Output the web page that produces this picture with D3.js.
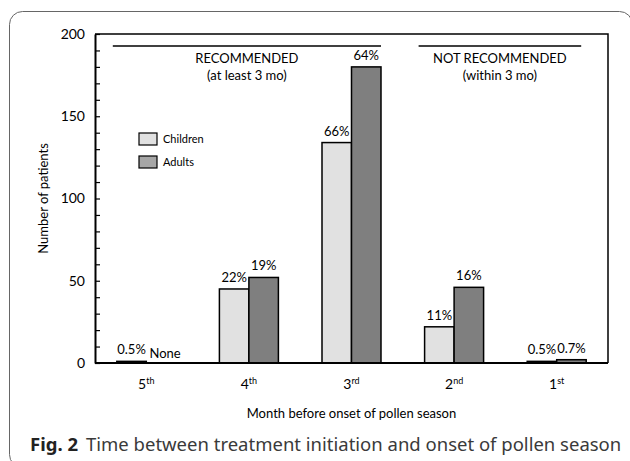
<!doctype html>
<html>
  <head>
    <script src="https://cdn.jsdelivr.net/npm/d3@7/dist/d3.min.js"></script>
    <style>
      body, html {
        margin: 0;
        background: #fff;
      }
      svg {
        display: block;
      }
      text {
        font-family: Lato, "Noto Sans", sans-serif;
        fill: #000;
      }
      rect.children {
        fill: #e1e1e1;
        stroke: #000;
        stroke-width: 1.5px;
      }
      rect.adults {
        fill: #7f7f7f;
        stroke: #000;
        stroke-width: 1.5px;
      }
    </style>
  </head>
  <body>
    <svg width="630" height="461"></svg>
    <script>

      var months = ["5th", "4th", "3rd", "2nd", "1st"];
      var monthNum = ["5", "4", "3", "2", "1"];
      var monthSup = ["th", "th", "rd", "nd", "st"];
      var children = [1, 45, 134, 22, 1];
      var adults = [0, 52, 180, 46, 2];
      var childPct = ["0.5%", "22%", "66%", "11%", "0.5%"];
      var adultPct = ["None", "19%", "64%", "16%", "0.7%"];
      var yTicks = [0, 50, 100, 150, 200];

      var svg = d3.select("svg");

      // outer figure frame
      svg.append("rect")
        .attr("x", 9.5).attr("y", 11.5)
        .attr("width", 623).attr("height", 456)
        .attr("rx", 13)
        .attr("fill", "none")
        .attr("stroke", "#666")
        .attr("stroke-width", 1);

      var pLeft = 95, pRight = 608, pTop = 34, pBottom = 363;

      var x = d3.scaleBand()
        .domain(months)
        .range([pLeft, pRight])
        .paddingInner(0.425)
        .paddingOuter(0.2125);

      var x1 = d3.scaleBand()
        .domain(["children", "adults"])
        .range([0, x.bandwidth()]);

      var y = d3.scaleLinear()
        .domain([0, 200])
        .range([pBottom, pTop]);

      // plot frame (top + right)
      svg.append("path")
        .attr("d", "M" + pLeft + "," + pTop + "H" + pRight + "V" + pBottom)
        .attr("fill", "none")
        .attr("stroke", "#000")
        .attr("stroke-width", 1.5);

      // bars
      var groups = svg.selectAll("g.month")
        .data(months)
        .enter().append("g")
        .attr("class", "month")
        .attr("transform", d => "translate(" + x(d) + ",0)");

      groups.append("rect")
        .attr("class", "children")
        .attr("x", x1("children"))
        .attr("width", x1.bandwidth())
        .attr("y", (d, i) => y(children[i]))
        .attr("height", (d, i) => y(0) - y(children[i]));

      groups.append("rect")
        .attr("class", "adults")
        .attr("x", x1("adults"))
        .attr("width", x1.bandwidth())
        .attr("y", (d, i) => y(adults[i]))
        .attr("height", (d, i) => y(0) - y(adults[i]));

      groups.append("text")
        .attr("x", x1("children") + x1.bandwidth() / 2)
        .attr("y", (d, i) => y(children[i]) - 7)
        .attr("text-anchor", "middle")
        .style("font-size", "13px")
        .text((d, i) => childPct[i]);

      groups.append("text")
        .attr("x", (d, i) => x1("adults") + x1.bandwidth() / 2 + (adults[i] === 0 ? 4 : 0))
        .attr("y", (d, i) => y(adults[i]) - (adults[i] === 0 ? 5 : 7))
        .attr("text-anchor", "middle")
        .style("font-size", "13px")
        .text((d, i) => adultPct[i]);

      // y axis
      var yAxis = d3.axisLeft(y)
        .tickValues(d3.range(0, 201, 10))
        .tickSizeInner(-5)
        .tickSizeOuter(0)
        .tickPadding(10)
        .tickFormat(d => yTicks.indexOf(d) >= 0 ? d : "");

      var gy = svg.append("g")
        .attr("transform", "translate(" + pLeft + ",0)")
        .call(yAxis);
      gy.select(".domain").attr("stroke-width", 2);
      gy.selectAll(".tick line").attr("stroke-width", 1.2);
      gy.selectAll(".tick text")
        .style("font-family", "Lato, sans-serif")
        .style("font-size", "14px");

      // x axis line
      svg.append("line")
        .attr("x1", pLeft).attr("x2", pRight)
        .attr("y1", pBottom).attr("y2", pBottom)
        .attr("stroke", "#000")
        .attr("stroke-width", 2);

      // x tick labels with superscripts
      var xl = svg.selectAll("text.xlab")
        .data(months)
        .enter().append("text")
        .attr("class", "xlab")
        .attr("x", d => x(d) + x.bandwidth() / 2)
        .attr("y", 389)
        .attr("text-anchor", "middle")
        .style("font-size", "14px");
      xl.append("tspan").text((d, i) => monthNum[i]);
      xl.append("tspan")
        .attr("dy", -5)
        .style("font-size", "9px")
        .text((d, i) => monthSup[i]);

      // axis titles
      svg.append("text")
        .attr("x", (pLeft + pRight) / 2)
        .attr("y", 418)
        .attr("text-anchor", "middle")
        .style("font-size", "13px")
        .text("Month before onset of pollen season");

      svg.append("text")
        .attr("transform", "translate(48," + (pTop + pBottom) / 2 + ") rotate(-90)")
        .attr("text-anchor", "middle")
        .style("font-size", "13px")
        .text("Number of patients");

      // recommendation brackets
      var brackets = [
        {x0: x("5th") - 4, x1: x("3rd") + x.bandwidth(), l1: "RECOMMENDED", l2: "(at least 3 mo)"},
        {x0: x("2nd") - 6, x1: x("1st") + x.bandwidth() - 5, l1: "NOT RECOMMENDED", l2: "(within 3 mo)"}
      ];
      brackets.forEach(b => {
        svg.append("line")
          .attr("x1", b.x0).attr("x2", b.x1)
          .attr("y1", 46).attr("y2", 46)
          .attr("stroke", "#000")
          .attr("stroke-width", 1.5);
        var cx = b.x0 + (b.x1 - b.x0) / 2;
        svg.append("text")
          .attr("x", cx).attr("y", 63)
          .attr("text-anchor", "middle")
          .style("font-size", "13px")
          .text(b.l1);
        svg.append("text")
          .attr("x", cx).attr("y", 80)
          .attr("text-anchor", "middle")
          .style("font-size", "13px")
          .text(b.l2);
      });

      // legend
      var legend = [
        {fill: "#e1e1e1", label: "Children"},
        {fill: "#a6a6a6", label: "Adults"}
      ];
      legend.forEach((d, i) => {
        svg.append("rect")
          .attr("x", 139).attr("y", 133 + i * 23)
          .attr("width", 18).attr("height", 12)
          .attr("fill", d.fill)
          .attr("stroke", "#000")
          .attr("stroke-width", 1.2);
        svg.append("text")
          .attr("x", 163).attr("y", 143 + i * 23)
          .style("font-size", "11px")
          .text(d.label);
      });

      // caption
      var cap = svg.append("text")
        .attr("x", 30).attr("y", 451)
        .style("font-family", "'Noto Sans', sans-serif")
        .style("font-size", "18.5px");
      cap.append("tspan")
        .style("font-weight", "bold")
        .style("fill", "#222")
        .text("Fig. 2");
      cap.append("tspan")
        .attr("dx", 8)
        .style("fill", "#3a3a3a")
        .text("Time between treatment initiation and onset of pollen season");
    </script>
  </body>
</html>
